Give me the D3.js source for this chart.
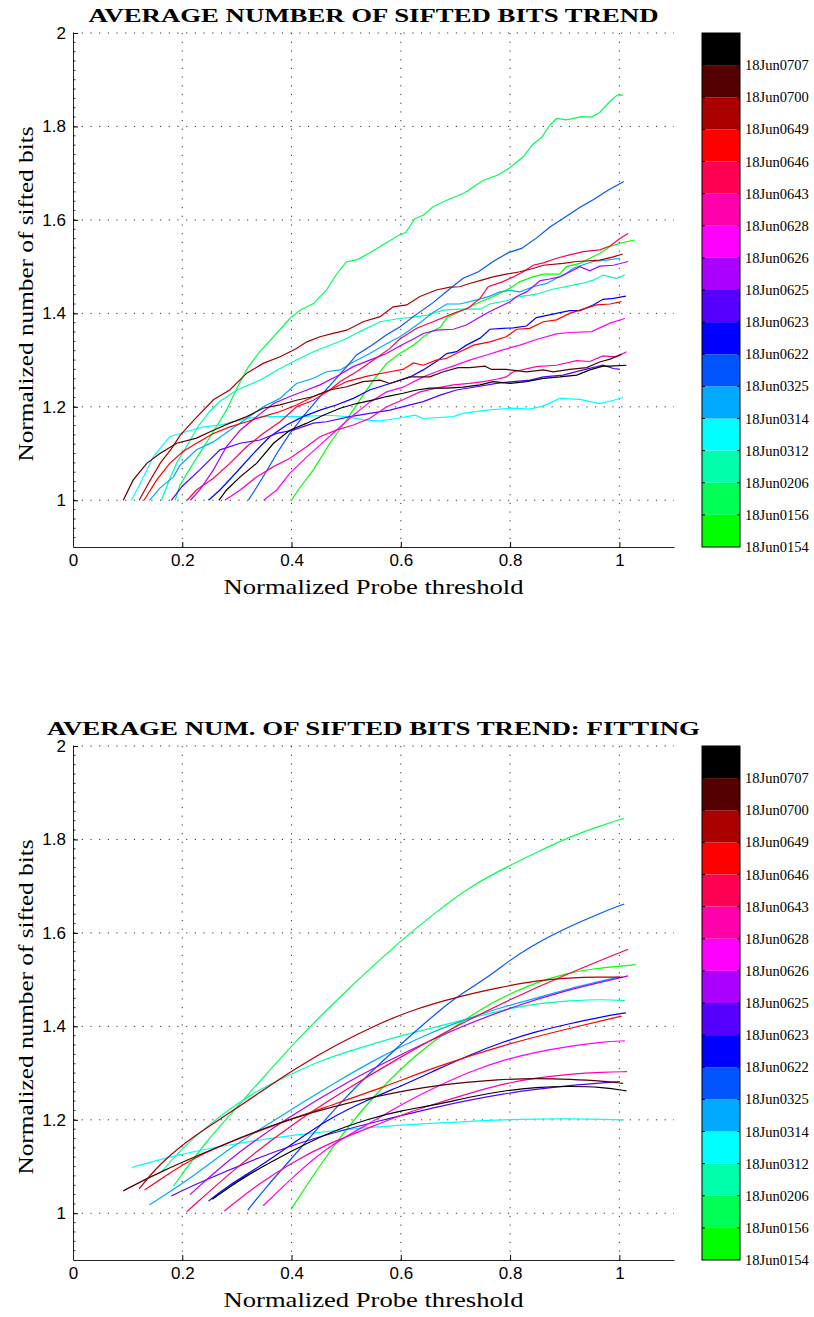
<!DOCTYPE html>
<html>
<head>
<meta charset="utf-8">
<script src="https://cdn.jsdelivr.net/npm/d3@7"></script>
<style>
  body { margin: 0; background: #fff; }
  .serif { font-family: 'Liberation Serif', 'Times New Roman', serif; }
  .tick text { font-family: 'Liberation Sans', Arial, sans-serif; }
</style>
</head>
<body>
<div id="chart"></div>
<script>
// run names, bottom of the colour bar first
const runNames = ['18Jun0154', '18Jun0156', '18Jun0206', '18Jun0312', '18Jun0314', '18Jun0325',
  '18Jun0622', '18Jun0623', '18Jun0625', '18Jun0626', '18Jun0628', '18Jun0643',
  '18Jun0646', '18Jun0649', '18Jun0700', '18Jun0707'];
const runColors = ['#00ff00', '#00ff55', '#00ffaa', '#00ffff', '#00aaff', '#0055ff',
  '#0000ff', '#5500ff', '#aa00ff', '#ff00ff', '#ff00aa', '#ff0055',
  '#ff0000', '#aa0000', '#550000', '#000000'];

const xTicks = [0, 0.2, 0.4, 0.6, 0.8, 1];
const yTicks = [1, 1.2, 1.4, 1.6, 1.8, 2];

// measured curves [threshold, sifted bits]
const raw0154 = [[0.4,1.0],[0.412,1.022],[0.44,1.065],[0.47,1.122],[0.501,1.172],[0.525,1.215],[0.55,1.257],[0.574,1.293],[0.598,1.314],[0.623,1.332],[0.647,1.355],[0.672,1.37],[0.684,1.39],[0.708,1.404],[0.739,1.421],[0.769,1.436],[0.8,1.454],[0.818,1.468],[0.842,1.478],[0.861,1.484],[0.891,1.484],[0.903,1.5],[0.928,1.507],[0.946,1.518],[0.964,1.528],[0.983,1.543],[1.001,1.55],[1.028,1.557]];
const raw0156 = [[0.187,1.0],[0.196,1.033],[0.22,1.079],[0.251,1.136],[0.281,1.193],[0.3,1.24],[0.321,1.286],[0.342,1.318],[0.367,1.35],[0.397,1.389],[0.415,1.406],[0.44,1.421],[0.464,1.45],[0.48,1.48],[0.5,1.51],[0.52,1.515],[0.543,1.529],[0.562,1.543],[0.595,1.566],[0.609,1.573],[0.626,1.603],[0.641,1.61],[0.659,1.628],[0.684,1.642],[0.717,1.658],[0.733,1.671],[0.751,1.685],[0.778,1.696],[0.8,1.712],[0.824,1.735],[0.842,1.762],[0.858,1.777],[0.873,1.803],[0.885,1.817],[0.903,1.814],[0.931,1.821],[0.949,1.82],[0.964,1.83],[0.983,1.854],[0.996,1.867],[1.007,1.867]];
const raw0206 = [[0.162,1.0],[0.175,1.04],[0.19,1.08],[0.21,1.12],[0.23,1.16],[0.25,1.19],[0.269,1.212],[0.3,1.236],[0.342,1.257],[0.379,1.282],[0.409,1.3],[0.44,1.318],[0.464,1.329],[0.495,1.343],[0.525,1.361],[0.562,1.382],[0.598,1.389],[0.623,1.392],[0.647,1.396],[0.678,1.407],[0.708,1.409],[0.745,1.409],[0.763,1.42],[0.793,1.427],[0.818,1.436],[0.848,1.441],[0.876,1.451],[0.931,1.464],[0.952,1.471],[0.97,1.482],[0.995,1.475],[1.01,1.482]];
const raw0312 = [[0.107,1.0],[0.126,1.043],[0.147,1.093],[0.177,1.136],[0.202,1.145],[0.238,1.157],[0.269,1.161],[0.318,1.175],[0.348,1.179],[0.409,1.179],[0.47,1.182],[0.501,1.179],[0.531,1.172],[0.562,1.17],[0.592,1.175],[0.611,1.179],[0.626,1.182],[0.641,1.175],[0.696,1.179],[0.714,1.186],[0.757,1.193],[0.8,1.197],[0.836,1.195],[0.861,1.202],[0.891,1.218],[0.928,1.216],[0.964,1.207],[0.989,1.214],[1.007,1.22]];
const raw0314 = [[0.14,1.0],[0.159,1.026],[0.184,1.05],[0.196,1.075],[0.226,1.108],[0.257,1.125],[0.287,1.15],[0.318,1.175],[0.348,1.2],[0.379,1.218],[0.409,1.25],[0.44,1.261],[0.464,1.275],[0.489,1.279],[0.513,1.296],[0.543,1.314],[0.574,1.335],[0.598,1.35],[0.617,1.365],[0.635,1.38],[0.659,1.402],[0.684,1.42],[0.708,1.42],[0.739,1.429],[0.763,1.437],[0.781,1.446],[0.8,1.449],[0.818,1.446],[0.842,1.457],[0.867,1.464],[0.885,1.475],[0.903,1.486],[0.915,1.496],[0.931,1.503],[0.952,1.511],[0.976,1.514],[1.001,1.518]];
const raw0325 = [[0.321,1.0],[0.333,1.022],[0.353,1.06],[0.373,1.1],[0.397,1.143],[0.421,1.179],[0.452,1.222],[0.479,1.257],[0.501,1.286],[0.519,1.311],[0.547,1.332],[0.574,1.354],[0.598,1.371],[0.623,1.393],[0.659,1.423],[0.687,1.45],[0.714,1.475],[0.742,1.489],[0.769,1.511],[0.797,1.53],[0.821,1.539],[0.848,1.561],[0.873,1.585],[0.897,1.603],[0.928,1.627],[0.952,1.643],[0.98,1.664],[1.008,1.682]];
const raw0622 = [[0.248,1.0],[0.269,1.022],[0.3,1.061],[0.33,1.1],[0.36,1.136],[0.391,1.161],[0.421,1.179],[0.452,1.193],[0.482,1.204],[0.513,1.218],[0.543,1.236],[0.58,1.25],[0.617,1.264],[0.641,1.279],[0.665,1.297],[0.684,1.314],[0.702,1.318],[0.72,1.332],[0.745,1.347],[0.763,1.366],[0.787,1.368],[0.806,1.369],[0.83,1.373],[0.848,1.391],[0.885,1.4],[0.909,1.406],[0.928,1.406],[0.952,1.418],[0.97,1.43],[0.989,1.432],[1.012,1.437]];
const raw0623 = [[0.18,1.0],[0.2,1.03],[0.232,1.065],[0.269,1.108],[0.306,1.122],[0.342,1.129],[0.373,1.143],[0.403,1.15],[0.44,1.165],[0.464,1.168],[0.507,1.179],[0.543,1.186],[0.58,1.193],[0.617,1.204],[0.641,1.211],[0.672,1.225],[0.702,1.236],[0.739,1.243],[0.775,1.25],[0.806,1.254],[0.836,1.257],[0.861,1.264],[0.897,1.268],[0.934,1.279],[0.97,1.289],[0.989,1.282],[1.001,1.28]];
const raw0625 = [[0.215,1.0],[0.232,1.022],[0.257,1.065],[0.281,1.115],[0.306,1.15],[0.336,1.179],[0.367,1.207],[0.397,1.222],[0.428,1.236],[0.452,1.247],[0.482,1.265],[0.513,1.286],[0.543,1.3],[0.574,1.314],[0.598,1.33],[0.623,1.345],[0.641,1.357],[0.665,1.364],[0.696,1.366],[0.72,1.375],[0.745,1.392],[0.763,1.404],[0.781,1.414],[0.8,1.425],[0.812,1.436],[0.83,1.446],[0.842,1.457],[0.855,1.47],[0.87,1.473],[0.891,1.478],[0.928,1.5],[0.946,1.491],[0.964,1.501],[0.989,1.503],[1.016,1.511]];
const raw0626 = [[0.349,1.0],[0.373,1.022],[0.397,1.058],[0.428,1.093],[0.452,1.118],[0.482,1.15],[0.513,1.182],[0.543,1.21],[0.574,1.232],[0.604,1.242],[0.641,1.264],[0.665,1.275],[0.69,1.285],[0.726,1.3],[0.757,1.311],[0.787,1.322],[0.818,1.332],[0.848,1.344],[0.885,1.356],[0.909,1.359],[0.949,1.361],[0.983,1.379],[1.01,1.389]];
const raw0628 = [[0.278,1.0],[0.306,1.022],[0.336,1.05],[0.367,1.072],[0.397,1.09],[0.428,1.115],[0.452,1.136],[0.482,1.15],[0.513,1.161],[0.543,1.175],[0.574,1.2],[0.604,1.215],[0.635,1.232],[0.665,1.24],[0.696,1.247],[0.726,1.25],[0.751,1.254],[0.775,1.259],[0.793,1.264],[0.806,1.275],[0.848,1.286],[0.885,1.289],[0.922,1.299],[0.946,1.297],[0.97,1.309],[0.995,1.307],[1.013,1.318]];
const raw0643 = [[0.209,1.0],[0.226,1.022],[0.257,1.047],[0.287,1.079],[0.318,1.115],[0.348,1.143],[0.379,1.168],[0.409,1.2],[0.44,1.214],[0.47,1.236],[0.489,1.254],[0.519,1.275],[0.55,1.3],[0.58,1.325],[0.598,1.345],[0.629,1.368],[0.659,1.382],[0.696,1.4],[0.723,1.411],[0.745,1.432],[0.76,1.457],[0.787,1.468],[0.806,1.478],[0.824,1.489],[0.842,1.503],[0.861,1.508],[0.885,1.518],[0.909,1.525],[0.934,1.532],[0.964,1.536],[0.983,1.544],[1.001,1.56],[1.016,1.571]];
const raw0646 = [[0.13,1.0],[0.153,1.043],[0.177,1.079],[0.202,1.105],[0.226,1.122],[0.257,1.143],[0.287,1.157],[0.318,1.168],[0.348,1.179],[0.379,1.19],[0.409,1.204],[0.44,1.222],[0.47,1.236],[0.501,1.254],[0.537,1.265],[0.58,1.275],[0.604,1.28],[0.623,1.294],[0.641,1.289],[0.665,1.3],[0.684,1.304],[0.708,1.318],[0.733,1.332],[0.763,1.339],[0.793,1.35],[0.812,1.366],[0.836,1.368],[0.861,1.382],[0.885,1.386],[0.909,1.4],[0.958,1.418],[0.983,1.42],[1.004,1.425]];
const raw0649 = [[0.121,1.0],[0.14,1.04],[0.16,1.08],[0.18,1.11],[0.196,1.139],[0.22,1.17],[0.257,1.215],[0.287,1.236],[0.318,1.272],[0.348,1.293],[0.379,1.307],[0.409,1.325],[0.428,1.339],[0.452,1.35],[0.476,1.357],[0.501,1.364],[0.531,1.382],[0.562,1.393],[0.586,1.414],[0.611,1.418],[0.635,1.436],[0.665,1.45],[0.69,1.456],[0.708,1.457],[0.726,1.464],[0.748,1.471],[0.769,1.478],[0.793,1.484],[0.818,1.489],[0.842,1.496],[0.861,1.503],[0.897,1.507],[0.922,1.511],[0.964,1.514],[0.989,1.521],[1.006,1.527]];
const raw0700 = [[0.092,1.0],[0.11,1.043],[0.135,1.079],[0.159,1.1],[0.19,1.122],[0.226,1.133],[0.257,1.15],[0.287,1.165],[0.318,1.179],[0.348,1.197],[0.379,1.204],[0.409,1.214],[0.44,1.222],[0.47,1.236],[0.501,1.243],[0.531,1.254],[0.562,1.257],[0.58,1.25],[0.617,1.264],[0.653,1.264],[0.678,1.275],[0.705,1.284],[0.726,1.284],[0.754,1.287],[0.766,1.28],[0.793,1.28],[0.83,1.275],[0.861,1.279],[0.879,1.275],[0.909,1.28],[0.94,1.284],[0.964,1.296],[0.983,1.302],[1.004,1.313]];
const raw0707 = [[0.267,1.0],[0.281,1.022],[0.306,1.05],[0.336,1.079],[0.367,1.122],[0.397,1.15],[0.428,1.165],[0.458,1.182],[0.489,1.197],[0.519,1.207],[0.55,1.215],[0.574,1.222],[0.604,1.229],[0.629,1.236],[0.653,1.24],[0.684,1.24],[0.714,1.242],[0.745,1.247],[0.769,1.254],[0.8,1.25],[0.83,1.254],[0.861,1.261],[0.891,1.264],[0.922,1.268],[0.946,1.279],[0.97,1.287],[0.983,1.287],[1.013,1.289]];

// fitted curves, sampled off the lower plot
const fit0154 = [[0.399,1.008],[0.45,1.1],[0.5,1.18],[0.55,1.25],[0.6,1.31],[0.65,1.36],[0.7,1.4],[0.75,1.44],[0.8,1.47],[0.85,1.495],[0.9,1.512],[0.95,1.524],[1.03,1.532]];
const fit0156 = [[0.184,1.058],[0.245,1.157],[0.312,1.242],[0.403,1.364],[0.501,1.478],[0.601,1.585],[0.665,1.645],[0.726,1.699],[0.8,1.745],[0.848,1.772],[0.909,1.806],[0.97,1.831],[1.008,1.845]];
const fit0206 = [[0.163,1.09],[0.2,1.14],[0.25,1.19],[0.3,1.235],[0.35,1.27],[0.403,1.3],[0.45,1.325],[0.5,1.345],[0.562,1.367],[0.604,1.381],[0.665,1.399],[0.726,1.417],[0.787,1.435],[0.848,1.449],[0.91,1.455],[0.97,1.458],[1.01,1.455]];
const fit0312 = [[0.107,1.098],[0.19,1.125],[0.281,1.146],[0.403,1.168],[0.543,1.185],[0.665,1.193],[0.787,1.201],[0.909,1.203],[1.009,1.2]];
const fit0314 = [[0.14,1.018],[0.22,1.078],[0.281,1.135],[0.35,1.185],[0.403,1.225],[0.48,1.28],[0.562,1.335],[0.65,1.385],[0.726,1.418],[0.787,1.442],[0.848,1.46],[0.909,1.481],[0.96,1.495],[1.001,1.506]];
const fit0325 = [[0.32,1.007],[0.354,1.057],[0.403,1.121],[0.45,1.185],[0.494,1.242],[0.543,1.3],[0.58,1.34],[0.629,1.392],[0.672,1.435],[0.702,1.463],[0.757,1.503],[0.8,1.542],[0.836,1.57],[0.897,1.608],[0.97,1.645],[1.009,1.662]];
const fit0622 = [[0.248,1.026],[0.281,1.057],[0.342,1.1],[0.403,1.15],[0.464,1.2],[0.543,1.245],[0.604,1.274],[0.665,1.307],[0.726,1.339],[0.787,1.367],[0.848,1.389],[0.909,1.406],[0.97,1.421],[1.012,1.429]];
const fit0623 = [[0.18,1.037],[0.22,1.06],[0.342,1.121],[0.45,1.165],[0.562,1.198],[0.665,1.228],[0.787,1.257],[0.909,1.274],[1.001,1.282]];
const fit0625 = [[0.214,1.04],[0.3,1.13],[0.4,1.21],[0.5,1.28],[0.6,1.34],[0.7,1.395],[0.8,1.44],[0.9,1.477],[1.016,1.508]];
const fit0626 = [[0.348,1.016],[0.403,1.078],[0.464,1.142],[0.562,1.205],[0.604,1.235],[0.665,1.271],[0.726,1.303],[0.787,1.328],[0.848,1.345],[0.909,1.358],[0.97,1.367],[1.01,1.369]];
const fit0628 = [[0.277,1.005],[0.342,1.065],[0.403,1.11],[0.464,1.148],[0.562,1.192],[0.604,1.212],[0.665,1.235],[0.726,1.257],[0.787,1.277],[0.848,1.29],[0.909,1.298],[0.97,1.302],[1.014,1.303]];
const fit0643 = [[0.208,1.003],[0.3,1.1],[0.4,1.19],[0.5,1.265],[0.6,1.335],[0.7,1.4],[0.8,1.458],[0.9,1.51],[1.016,1.565]];
const fit0646 = [[0.131,1.05],[0.159,1.071],[0.22,1.121],[0.342,1.178],[0.464,1.228],[0.562,1.267],[0.665,1.314],[0.787,1.36],[0.909,1.396],[1.004,1.422]];
const fit0649 = [[0.121,1.052],[0.159,1.107],[0.22,1.165],[0.281,1.21],[0.35,1.265],[0.403,1.307],[0.48,1.36],[0.562,1.407],[0.623,1.436],[0.702,1.463],[0.787,1.485],[0.848,1.498],[0.909,1.504],[0.96,1.506],[1.006,1.505]];
const fit0700 = [[0.092,1.048],[0.159,1.089],[0.281,1.15],[0.403,1.207],[0.562,1.253],[0.665,1.275],[0.787,1.287],[0.848,1.289],[0.91,1.287],[0.97,1.283],[1.007,1.278]];
const fit0707 = [[0.255,1.03],[0.312,1.078],[0.403,1.135],[0.464,1.171],[0.543,1.203],[0.604,1.221],[0.665,1.232],[0.726,1.249],[0.787,1.262],[0.848,1.27],[0.909,1.272],[0.97,1.27],[1.013,1.262]];

const rawSeries = [raw0154, raw0156, raw0206, raw0312, raw0314, raw0325, raw0622, raw0623,
  raw0625, raw0626, raw0628, raw0643, raw0646, raw0649, raw0700, raw0707];
const fitSeries = [fit0154, fit0156, fit0206, fit0312, fit0314, fit0325, fit0622, fit0623,
  fit0625, fit0626, fit0628, fit0643, fit0646, fit0649, fit0700, fit0707];

const width = 814;
const height = 1317;
const marginLeft = 73;
const plotRight = 674;
const plotHeight = 514;
const cbLeft = 702;
const cbWidth = 38;

const svg = d3.select('#chart').append('svg')
  .attr('width', width)
  .attr('height', height);

const x = d3.scaleLinear().domain([0, 1.1]).range([marginLeft, plotRight]);

function drawPanel(top, title, titleLen, series, curve) {
  const bottom = top + plotHeight;
  const y = d3.scaleLinear().domain([0.9, 2]).range([bottom, top]);
  const $g = svg.append('g');

  // dotted grid
  $g.append('g').selectAll('line')
    .data(xTicks.filter(d => d > 0))
    .join('line')
    .attr('x1', d => x(d)).attr('x2', d => x(d))
    .attr('y1', top).attr('y2', bottom)
    .attr('stroke', '#333').attr('stroke-width', 1)
    .attr('stroke-dasharray', '1.2,7.5');

  $g.append('g').selectAll('line')
    .data(yTicks)
    .join('line')
    .attr('x1', marginLeft).attr('x2', plotRight)
    .attr('y1', d => y(d)).attr('y2', d => y(d))
    .attr('stroke', '#333').attr('stroke-width', 1)
    .attr('stroke-dasharray', '1.2,7.5');

  // curves
  const line = d3.line()
    .x(d => x(d[0]))
    .y(d => y(d[1]))
    .curve(curve);

  $g.append('g').selectAll('path')
    .data(series)
    .join('path')
    .attr('d', line)
    .attr('fill', 'none')
    .attr('stroke', (d, i) => runColors[i])
    .attr('stroke-width', 1.2);

  // axes
  const $xAxis = $g.append('g')
    .attr('transform', `translate(0,${bottom})`)
    .call(d3.axisBottom(x).tickValues(xTicks).tickFormat(d3.format('~g'))
      .tickSizeInner(-5).tickSizeOuter(0).tickPadding(7));

  const $yAxis = $g.append('g')
    .attr('transform', `translate(${marginLeft},0)`)
    .call(d3.axisLeft(y).tickValues(yTicks).tickFormat(d3.format('~g'))
      .tickSizeInner(-5).tickSizeOuter(0).tickPadding(7));

  // minor ticks on the y axis
  $yAxis.append('g').selectAll('line')
    .data(d3.range(0.92, 2.0, 0.02))
    .join('line')
    .attr('x1', 0).attr('x2', 2.5)
    .attr('y1', d => y(d)).attr('y2', d => y(d))
    .attr('stroke', '#000').attr('stroke-width', 0.8);

  [$xAxis, $yAxis].forEach($a => {
    $a.selectAll('text').attr('font-size', 17).attr('fill', '#000')
      .attr('font-family', "'Liberation Sans', Arial, sans-serif");
    $a.select('.domain').attr('stroke', '#222');
  });

  // titles and labels
  $g.append('text')
    .attr('class', 'serif')
    .attr('x', (marginLeft + plotRight) / 2)
    .attr('y', top - 11)
    .attr('text-anchor', 'middle')
    .attr('font-weight', 'bold')
    .attr('font-size', 19)
    .attr('textLength', titleLen)
    .attr('lengthAdjust', 'spacingAndGlyphs')
    .text(title);

  $g.append('text')
    .attr('class', 'serif')
    .attr('x', (marginLeft + plotRight) / 2)
    .attr('y', bottom + 47)
    .attr('text-anchor', 'middle')
    .attr('font-size', 22)
    .attr('textLength', 300)
    .attr('lengthAdjust', 'spacingAndGlyphs')
    .text('Normalized Probe threshold');

  $g.append('text')
    .attr('class', 'serif')
    .attr('transform', `translate(33,${(top + bottom) / 2 + 4}) rotate(-90)`)
    .attr('text-anchor', 'middle')
    .attr('font-size', 21)
    .attr('textLength', 335)
    .attr('lengthAdjust', 'spacingAndGlyphs')
    .text('Normalized number of sifted bits');

  // colour bar
  const cb = d3.scaleLinear().domain([0, runNames.length]).range([bottom, top]);
  const $cb = $g.append('g');

  $cb.selectAll('rect')
    .data(runNames)
    .join('rect')
    .attr('x', cbLeft)
    .attr('y', (d, i) => cb(i + 1))
    .attr('width', cbWidth)
    .attr('height', (d, i) => cb(i) - cb(i + 1))
    .attr('fill', (d, i) => runColors[i]);

  $cb.append('rect')
    .attr('x', cbLeft).attr('y', top)
    .attr('width', cbWidth).attr('height', plotHeight)
    .attr('fill', 'none').attr('stroke', '#000').attr('stroke-width', 1);

  const inner = d3.range(1, runNames.length);
  $cb.selectAll('line.tl')
    .data(inner)
    .join('line')
    .attr('class', 'tl')
    .attr('x1', cbLeft).attr('x2', cbLeft + 3)
    .attr('y1', d => cb(d)).attr('y2', d => cb(d))
    .attr('stroke', '#000');
  $cb.selectAll('line.tr')
    .data(inner)
    .join('line')
    .attr('class', 'tr')
    .attr('x1', cbLeft + cbWidth - 3).attr('x2', cbLeft + cbWidth)
    .attr('y1', d => cb(d)).attr('y2', d => cb(d))
    .attr('stroke', '#000');

  $cb.selectAll('text')
    .data(runNames)
    .join('text')
    .attr('class', 'serif')
    .attr('x', cbLeft + cbWidth + 5)
    .attr('y', (d, i) => cb(i) + 5)
    .attr('font-size', 14.5)
    .text(d => d);
}

drawPanel(33, 'AVERAGE NUMBER OF SIFTED BITS TREND', 570, rawSeries, d3.curveLinear);
drawPanel(746, 'AVERAGE NUM. OF SIFTED BITS TREND: FITTING', 653, fitSeries, d3.curveBasis);
</script>
</body>
</html>
